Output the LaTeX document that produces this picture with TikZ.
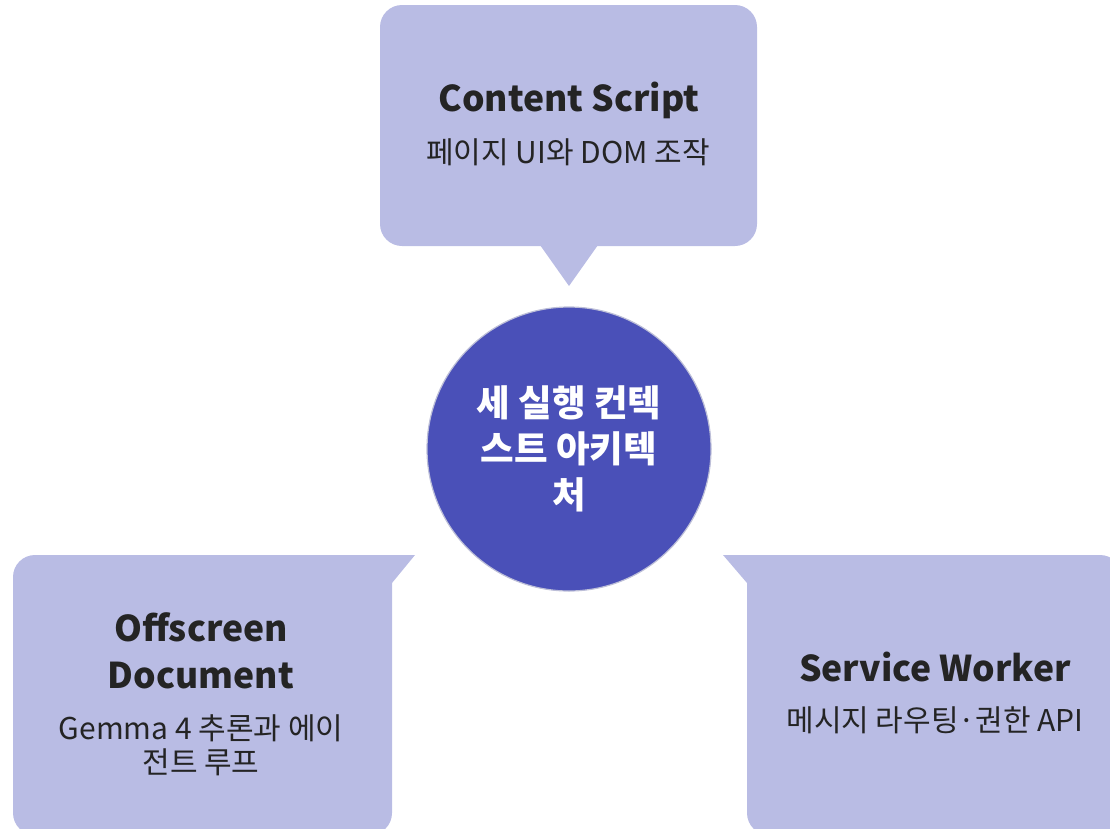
\documentclass[tikz,border=0pt]{standalone}
\usepackage{fontspec}
\setmainfont{Noto Sans CJK KR}
\usetikzlibrary{calc}
\definecolor{panelfill}{HTML}{B9BCE4}
\definecolor{hubfill}{HTML}{4A50B8}
\definecolor{hubedge}{HTML}{BDBFD8}
\definecolor{ink}{HTML}{242424}

\begin{document}
\begin{tikzpicture}[x=1pt,y=-1pt,
  panel/.style={fill=panelfill, rounded corners=22pt, inner sep=0pt, draw=none},
  tip/.style={fill=panelfill, draw=none},
  title/.style={font=\bfseries\fontsize{35.5}{47}\selectfont, text=ink, align=center, inner sep=0pt},
  sub/.style={font=\fontsize{30}{34}\selectfont, text=ink, align=center, inner sep=0pt},
  hubnode/.style={circle, fill=hubfill, draw=hubedge, line width=1.2pt, minimum size=284pt,
    inner sep=0pt, text=white, align=center, font=\bfseries\fontsize{36.5}{46}\selectfont}]
\useasboundingbox (0,0) rectangle (1110,828);
\clip (0,0) rectangle (1110,828);

% Content Script callout (top)
\node[panel, minimum width=377pt, minimum height=241pt] (cs) at (568.5,125.5) {};
\fill[tip] (540,245) -- (598,245) -- (569,286) -- cycle;
\node[title] (cstitle) at (569,100) {Content Script};
\node[sub] (cssub) at (568,152) {페이지 UI와 DOM 조작};

% Offscreen Document callout (bottom left)
\node[panel, minimum width=379pt, minimum height=280pt] (od) at (202.5,695) {};
\fill[tip] (360,555) -- (415,555) -- (392,583) -- (360,583) -- cycle;
\node[title] (odtitle) at (201,651) {Offscreen\\Document};
\node[sub] (odsub) at (201,745) {Gemma 4 추론과 에이\\전트 루프};

% Service Worker callout (bottom right)
\node[panel, minimum width=375pt, minimum height=280pt] (sw) at (934.5,695) {};
\fill[tip] (723,555) -- (780,555) -- (780,583) -- (747,583) -- cycle;
\node[title] (swtitle) at (935,667) {Service Worker};
\node[sub] (swsub) at (935,720) {메시지 라우팅·권한 API};

% central hub
\node[hubnode] (hub) at (569,449) {세 실행 컨텍\\스트 아키텍\\처};
\end{tikzpicture}
\end{document}
